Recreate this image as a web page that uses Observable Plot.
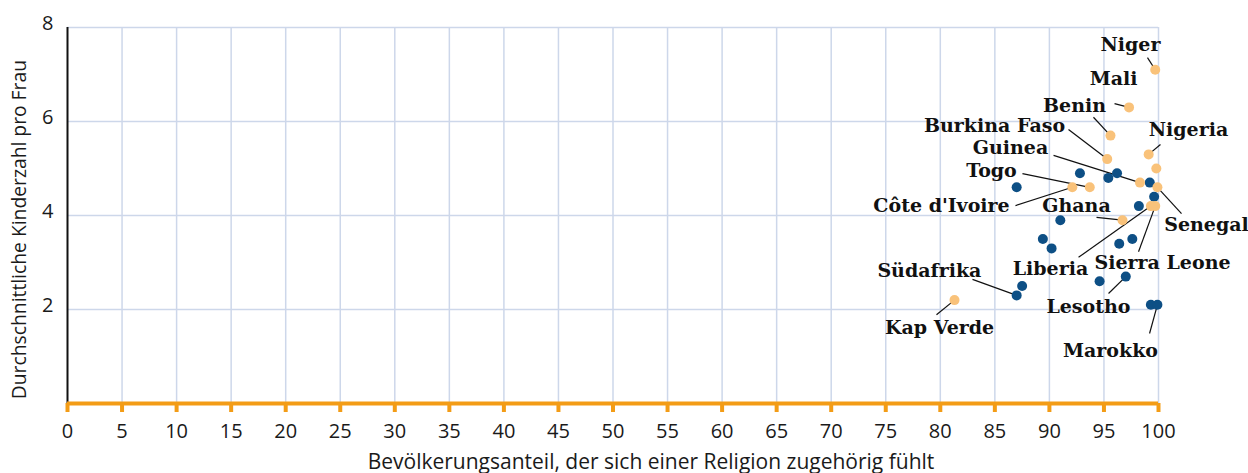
<!DOCTYPE html>
<html>
<head>
<meta charset="utf-8">
<script src="https://cdn.jsdelivr.net/npm/d3@7"></script>
<script src="https://cdn.jsdelivr.net/npm/@observablehq/plot@0.6"></script>
<style>
  html, body { margin: 0; padding: 0; background: #fff; }
  #chart svg { display: block; }
</style>
</head>
<body>
<div id="chart"></div>
<script>
// ---- Data ----
// West African countries (orange): [name, religiosity %, fertility]
const westAfrica = [
  ["Niger", 99.7, 7.1],
  ["Mali", 97.3, 6.3],
  ["Benin", 95.6, 5.7],
  ["Burkina Faso", 95.3, 5.2],
  ["Nigeria", 99.1, 5.3],
  ["Gambia", 99.8, 5.0],
  ["Guinea", 98.3, 4.7],
  ["Senegal", 99.9, 4.6],
  ["Togo", 93.7, 4.6],
  ["Côte d'Ivoire", 92.1, 4.6],
  ["Ghana", 96.7, 3.9],
  ["Liberia", 99.3, 4.2],
  ["Sierra Leone", 99.7, 4.2],
  ["Kap Verde", 81.3, 2.2]
];
// Other African countries (blue)
const otherAfrica = [
  ["A1", 87.0, 4.6],
  ["A2", 92.8, 4.9],
  ["A3", 95.4, 4.8],
  ["A4", 96.2, 4.9],
  ["A5", 99.2, 4.7],
  ["A6", 99.6, 4.4],
  ["A7", 98.2, 4.2],
  ["A8", 91.0, 3.9],
  ["A9", 89.4, 3.5],
  ["A10", 90.2, 3.3],
  ["A11", 96.4, 3.4],
  ["A12", 97.6, 3.5],
  ["A13", 87.5, 2.5],
  ["Südafrika", 87.0, 2.3],
  ["A14", 94.6, 2.6],
  ["Lesotho", 97.0, 2.7],
  ["A15", 99.3, 2.1],
  ["Marokko", 99.9, 2.1]
];
// Annotated countries: [name, label x, label y, leader start x, leader start y] (data units)
const annotations = [
  ["Niger", 97.43, 7.64, 98.99, 7.36],
  ["Mali", 95.88, 6.91, 95.97, 6.38],
  ["Benin", 92.30, 6.34, 94.04, 6.09],
  ["Burkina Faso", 84.97, 5.91, 91.75, 5.83],
  ["Nigeria", 102.75, 5.83, 100.18, 5.51],
  ["Guinea", 86.43, 5.43, 90.38, 5.28],
  ["Togo", 84.69, 4.94, 87.53, 4.89],
  ["Côte d'Ivoire", 80.11, 4.21, 86.89, 4.21],
  ["Ghana", 92.48, 4.21, 94.32, 3.96],
  ["Senegal", 104.4, 3.79, 102.11, 4.04],
  ["Liberia", 90.10, 2.87, 92.67, 3.11],
  ["Sierra Leone", 100.37, 3.0, 98.17, 3.23],
  ["Lesotho", 93.58, 2.06, 95.42, 2.34],
  ["Marokko", 95.60, 1.11, 99.18, 1.49],
  ["Südafrika", 79.0, 2.83, 82.95, 2.64],
  ["Kap Verde", 79.93, 1.60, 79.65, 1.89]
];
const xTicks = d3.range(0, 101, 5);
const yTicks = [2, 4, 6, 8];
const xTitle = "Bevölkerungsanteil, der sich einer Religion zugehörig fühlt";
const yTitle = "Durchschnittliche Kinderzahl pro Frau";

// ---- Build tables ----
const toRow = group => ([name, x, y]) => ({name, x, y, group});
const points = [...otherAfrica.map(toRow("other")), ...westAfrica.map(toRow("west"))];
const byName = new Map(points.map(d => [d.name, d]));
const labels = annotations.map(([name, lx, ly, sx, sy]) => {
  const p = byName.get(name);
  return {name, lx, ly, sx, sy, px: p.x, py: p.y};
});

const ORANGE = "#f9c27a";
const BLUE = "#0d4f85";
const AXIS_ORANGE = "#f39c16";
const GRID = "#cdd7ea";

const chart = Plot.plot({
  width: 1248,
  height: 473,
  marginLeft: 67,
  marginRight: 90,
  marginTop: 27,
  marginBottom: 70,
  style: {fontFamily: "'Open Sans', sans-serif", fontSize: "20px", color: "#1a1a1a", background: "#fff", overflow: "visible"},
  x: {domain: [0, 100], label: null},
  y: {domain: [0, 8], label: null},
  marks: [
    Plot.gridX(xTicks.filter(d => d > 0), {stroke: GRID, strokeOpacity: 1, strokeWidth: 1.5}),
    Plot.gridY(yTicks, {stroke: GRID, strokeOpacity: 1, strokeWidth: 1.5}),
    Plot.axisX(xTicks, {tickSize: 9, tickPadding: 11, stroke: AXIS_ORANGE, strokeWidth: 4, fill: "#1a1a1a", fontSize: 20, label: null}),
    Plot.axisY(yTicks, {tickSize: 0, tickPadding: 14, fill: "#1a1a1a", fontSize: 20, dy: -4, label: null}),
    Plot.ruleX([0], {stroke: "#111", strokeWidth: 2}),
    Plot.ruleY([0], {stroke: AXIS_ORANGE, strokeWidth: 4}),
    Plot.text([yTitle], {y: [3.7], frameAnchor: "left", rotate: -90, dx: -48, fontSize: 19.3, fill: "#1a1a1a", lineAnchor: "middle", textAnchor: "middle"}),
    Plot.text([xTitle], {frameAnchor: "bottom", dx: 38, dy: 59, fontSize: 21, fill: "#1a1a1a", lineAnchor: "middle", textAnchor: "middle"}),
    Plot.link(labels, {x1: "sx", y1: "sy", x2: "px", y2: "py", stroke: "#111", strokeWidth: 1.2}),
    Plot.dot(points, {x: "x", y: "y", r: 5, fill: d => d.group === "west" ? ORANGE : BLUE, stroke: "none"}),
    Plot.text(labels, {x: "lx", y: "ly", text: "name", fontFamily: "'DejaVu Serif', serif", fontWeight: "bold", fontSize: 19, fill: "#111", textAnchor: "middle", lineAnchor: "middle"})
  ]
});
document.getElementById("chart").appendChild(chart);
</script>
</body>
</html>
